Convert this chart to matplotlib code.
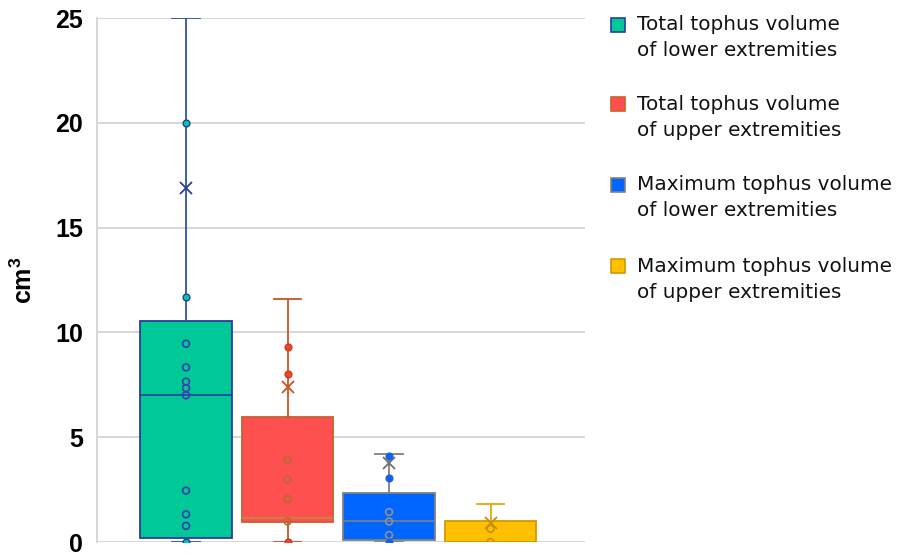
import matplotlib
matplotlib.use("Agg")
import matplotlib.pyplot as plt
from matplotlib.patches import Rectangle

plt.rcParams["mathtext.fontset"] = "custom"
plt.rcParams["mathtext.rm"] = "Liberation Sans:bold"
plt.rcParams["mathtext.bf"] = "Liberation Sans:bold"

# data
labels = ["Total tophus volume\nof lower extremities",
          "Total tophus volume\nof upper extremities",
          "Maximum tophus volume\nof lower extremities",
          "Maximum tophus volume\nof upper extremities"]
q1 = [0.17, 0.96, 0.11, 0.0]
med = [7.0, 1.15, 0.98, 0.0]
q3 = [10.56, 5.96, 2.32, 1.02]
whislo = [0.0, 0.0, 0.0, 0.0]
whishi = [25.0, 11.6, 4.19, 1.83]
means = [16.9, 7.4, 3.78, 0.92]
pts_green = [20.0, 11.7, 9.46, 8.33, 7.65, 7.34, 7.0, 2.45, 1.32, 0.77, 0.0]
pts_red = [9.32, 8.0, 3.94, 2.98, 2.05, 0.98, 0.0]
pts_blue = [4.1, 3.06, 1.43, 0.98, 0.33, 0.0]
pts_yellow = [0.63, 0.0]
points = [pts_green, pts_red, pts_blue, pts_yellow]

fills = ["#00C897", "#FF5050", "#0066FF", "#FFC000"]
edges = ["#2B3C9E", "#C8602A", "#808080", "#D09A00"]
lines = ["#3350A8", "#D0502A", "#808080", "#E0A800"]
medcol = ["#2B3C9E", "#C08848", "#808080", "#D09A00"]
dotfill = ["#00C8A0", "#E8472A", "#0066FF", "#FFC000"]
dotedge = ["#2B3C9E", "#C84020", "#3060C0", "#D09A00"]
holedge = ["#3A3FB0", "#B86A30", "#909090", "#C89000"]
meancol = ["#2B3C9E", "#D05020", "#707070", "#C89000"]

fig = plt.figure(figsize=(9.04, 5.55), dpi=100)
ax = fig.add_axes([97 / 904, 13 / 555, 488 / 904, 524 / 555])

for i in range(4):
    pos = i + 1
    st = [dict(med=med[i], q1=q1[i], q3=q3[i], whislo=whislo[i],
               whishi=whishi[i], mean=means[i], fliers=[])]
    ax.bxp(st, positions=[pos], widths=0.9, capwidths=0.27,
           patch_artist=True, showmeans=True, showfliers=False,
           boxprops=dict(facecolor=fills[i], edgecolor=edges[i], linewidth=1.3),
           whiskerprops=dict(color=lines[i], linewidth=1.3),
           capprops=dict(color=lines[i], linewidth=1.3),
           medianprops=dict(color=medcol[i], linewidth=1.2),
           meanprops=dict(marker="x", markeredgecolor=meancol[i],
                          markersize=9, markeredgewidth=1.3),
           zorder=3)
    for v in points[i]:
        inside = (q1[i] - 0.05) <= v <= q3[i]
        if inside:
            ax.scatter([pos], [v], s=24, facecolor="none", edgecolor=holedge[i],
                       linewidth=1.2, zorder=5)
        else:
            ax.scatter([pos], [v], s=24, facecolor=dotfill[i], edgecolor=dotedge[i],
                       linewidth=1.0, zorder=5)

ax.set_xlim(0.123, 4.93)
ax.set_ylim(0, 25)
ax.set_yticks([0, 5, 10, 15, 20, 25])
ax.set_xticks([])
ax.grid(axis="y", color="#d0d0d0", linewidth=1.2, zorder=0)
ax.set_axisbelow(True)
for s in ["top", "right", "bottom"]:
    ax.spines[s].set_visible(False)
ax.spines["left"].set_color("#d0d0d0")
ax.spines["left"].set_linewidth(1.2)
ax.tick_params(axis="y", length=0, pad=10)
for t in ax.get_yticklabels():
    t.set_fontfamily("Liberation Sans")
    t.set_fontweight("bold")
    t.set_fontsize(18)
ax.set_ylabel(r"cm$^\mathbf{3}$", fontfamily="Liberation Sans", fontweight="bold",
              fontsize=18)
ax.yaxis.set_label_coords(-0.123, 0.5)

# legend, drawn by hand so the square sits on the first line
ys = [25, 104, 185, 266]
for i in range(4):
    yc = 1 - ys[i] / 555
    fig.patches.append(Rectangle((611 / 904, yc - 7 / 555), 14 / 904, 14 / 555,
                                 transform=fig.transFigure, facecolor=fills[i],
                                 edgecolor=edges[i], linewidth=1.2))
    l1, l2 = labels[i].split("\n")
    fig.text(637 / 904, yc, l1, fontsize=14.4, va="center", ha="left", color="#111111")
    fig.text(637 / 904, 1 - (ys[i] + 26) / 555, l2, fontsize=14.4, va="center",
             ha="left", color="#111111")

fig.savefig("out.png", dpi=100)
